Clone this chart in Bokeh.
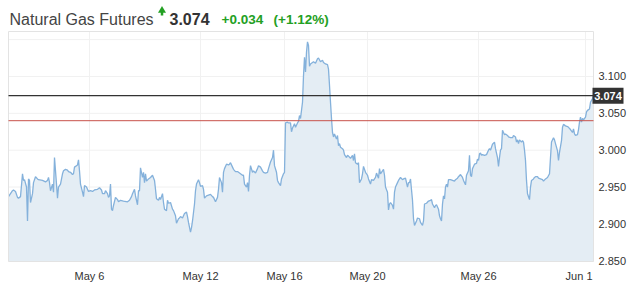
from bokeh.plotting import figure
from bokeh.models import Range1d
from bokeh.core.properties import value
from bokeh.embed import file_html
from bokeh.resources import INLINE

# ---- data -------------------------------------------------------------
bars = [0, 4, 5, 7, 9, 10, 12, 14, 15, 16, 18, 19, 20, 21, 22, 24, 25, 27, 29, 30,
        34, 37, 39, 40, 41, 42, 44, 45, 46, 48, 49, 50, 52, 54, 55, 57, 59, 60, 62, 64,
        65, 66, 68, 69, 70, 71, 72, 74, 75, 76, 78, 80, 82, 84, 86, 89, 91, 93, 94, 96,
        97, 99, 100, 101, 102, 103, 104, 105, 107, 109, 110, 112, 115, 119, 121, 123, 124, 126, 127, 129,
        130, 131, 132, 134, 135, 136, 137, 138, 140, 142, 144, 146, 147, 148, 150, 151, 152, 154, 155, 156,
        158, 159, 160, 162, 164, 165, 167, 168, 170, 171, 172, 174, 175, 176, 178, 179, 180, 182, 183, 184,
        186, 187, 188, 190, 191, 192, 194, 195, 196, 198, 200, 202, 204, 205, 207, 209, 210, 211, 213, 214,
        215, 216, 218, 220, 221, 222, 224, 225, 227, 229, 230, 232, 234, 235, 236, 238, 239, 240, 241, 242,
        244, 245, 247, 249, 250, 252, 254, 255, 257, 259, 260, 262, 264, 265, 266, 268, 269, 270, 272, 273,
        275, 276, 277, 279, 280, 282, 283, 284, 286, 287, 289, 290, 291, 292, 294, 295, 296, 297, 298, 299,
        300, 301, 302, 304, 305, 307, 309, 310, 312, 314, 315, 317, 319, 320, 321, 322, 323, 324, 325, 326,
        328, 329, 330, 331, 332, 334, 335, 336, 338, 339, 340, 342, 344, 345, 346, 347, 349, 350, 351, 353,
        354, 355, 357, 359, 360, 362, 363, 365, 367, 368, 370, 371, 372, 374, 375, 376, 377, 379, 380, 381,
        382, 384, 385, 386, 387, 389, 390, 392, 394, 395, 397, 399, 400, 401, 402, 404, 405, 406, 408, 409,
        411, 412, 414, 415, 416, 418, 420, 422, 423, 424, 426, 427, 428, 430, 431, 432, 433, 434, 435, 436,
        437, 438, 439, 440, 442, 444, 446, 447, 449, 450, 452, 454, 455, 457, 458, 460, 461, 462, 463, 464,
        465, 466, 468, 469, 470, 471, 472, 473, 474, 476, 478, 480, 481, 482, 484, 486, 487, 489, 490, 491,
        492, 493, 494, 496, 497, 499, 500, 502, 504, 505, 507, 508, 509, 510, 511, 513, 514, 515, 516, 517,
        518, 519, 521, 522, 523, 525, 526, 527, 529, 530, 532, 534, 535, 537, 538, 539, 541, 542, 543, 545,
        546, 547, 549, 550, 551, 553, 554, 555, 557, 559, 560, 562, 564, 565, 566, 567, 569, 570, 571, 572,
        573, 574, 575, 577, 578, 579, 581, 582, 584, 585]

prices = [2.937, 2.945, 2.946, 2.944, 2.936, 2.935, 2.937, 2.968, 2.959, 2.960, 2.950, 2.904, 2.961, 2.959, 2.929, 2.941, 2.956, 2.964, 2.961, 2.960,
          2.959, 2.957, 2.959, 2.963, 2.956, 2.945, 2.954, 2.943, 2.990, 2.954, 2.935, 2.950, 2.954, 2.968, 2.972, 2.974, 2.973, 2.971, 2.970, 2.967,
          2.968, 2.977, 2.979, 2.980, 2.987, 2.972, 2.954, 2.943, 2.937, 2.952, 2.950, 2.944, 2.945, 2.944, 2.946, 2.947, 2.949, 2.946, 2.941, 2.941,
          2.945, 2.941, 2.936, 2.938, 2.954, 2.920, 2.918, 2.925, 2.936, 2.933, 2.930, 2.932, 2.931, 2.930, 2.932, 2.937, 2.941, 2.947, 2.938, 2.926,
          2.945, 2.945, 2.976, 2.963, 2.970, 2.956, 2.968, 2.958, 2.961, 2.963, 2.966, 2.959, 2.947, 2.934, 2.932, 2.936, 2.933, 2.941, 2.929, 2.920,
          2.918, 2.932, 2.928, 2.929, 2.920, 2.918, 2.911, 2.901, 2.907, 2.908, 2.910, 2.908, 2.911, 2.914, 2.916, 2.910, 2.902, 2.889, 2.895, 2.904,
          2.927, 2.945, 2.954, 2.960, 2.956, 2.951, 2.952, 2.947, 2.935, 2.938, 2.939, 2.940, 2.937, 2.936, 2.930, 2.936, 2.947, 2.963, 2.956, 2.943,
          2.970, 2.975, 2.981, 2.980, 2.981, 2.983, 2.977, 2.974, 2.971, 2.971, 2.970, 2.968, 2.966, 2.966, 2.954, 2.950, 2.956, 2.944, 2.966, 2.979,
          2.970, 2.972, 2.969, 2.975, 2.979, 2.977, 2.972, 2.970, 2.969, 2.970, 2.975, 2.984, 2.990, 3.000, 2.979, 2.970, 2.959, 2.956, 2.952, 2.961,
          2.968, 2.970, 3.037, 3.038, 3.037, 3.037, 3.025, 3.030, 3.036, 3.031, 3.037, 3.039, 3.047, 3.043, 3.065, 3.101, 3.126, 3.106, 3.133, 3.147,
          3.142, 3.114, 3.117, 3.119, 3.120, 3.118, 3.124, 3.125, 3.120, 3.122, 3.119, 3.117, 3.116, 3.110, 3.088, 3.065, 3.043, 3.024, 3.018, 3.022,
          3.015, 3.020, 3.006, 3.009, 3.004, 3.002, 3.000, 2.994, 2.990, 2.993, 2.992, 2.989, 2.993, 2.986, 2.995, 2.983, 2.981, 2.983, 2.956, 2.961,
          2.968, 2.978, 2.970, 2.966, 2.961, 2.954, 2.960, 2.959, 2.963, 2.969, 2.962, 2.975, 2.968, 2.972, 2.974, 2.966, 2.950, 2.943, 2.919, 2.927,
          2.929, 2.925, 2.920, 2.943, 2.950, 2.956, 2.959, 2.963, 2.960, 2.961, 2.962, 2.950, 2.956, 2.956, 2.961, 2.932, 2.907, 2.898, 2.904, 2.908,
          2.907, 2.902, 2.898, 2.904, 2.927, 2.928, 2.931, 2.932, 2.933, 2.927, 2.922, 2.925, 2.926, 2.920, 2.911, 2.907, 2.904, 2.927, 2.938, 2.934,
          2.950, 2.954, 2.950, 2.960, 2.960, 2.959, 2.958, 2.960, 2.962, 2.964, 2.967, 2.963, 2.959, 2.953, 2.966, 2.972, 2.993, 2.966, 2.964, 2.975,
          2.978, 2.981, 2.982, 2.988, 2.986, 2.995, 2.996, 2.993, 2.994, 2.993, 2.994, 3.000, 3.002, 3.000, 3.008, 3.011, 3.002, 2.990, 2.978, 2.990,
          3.000, 3.002, 3.027, 3.021, 3.022, 3.020, 3.018, 3.017, 3.017, 3.020, 3.018, 3.011, 3.014, 3.009, 3.014, 3.011, 3.013, 3.011, 3.000, 2.986,
          2.959, 2.941, 2.933, 2.950, 2.959, 2.961, 2.963, 2.964, 2.964, 2.962, 2.961, 2.960, 2.958, 2.961, 2.962, 2.963, 2.968, 2.990, 3.011, 3.017,
          3.014, 3.009, 2.999, 2.986, 2.997, 3.013, 3.031, 3.035, 3.033, 3.032, 3.031, 3.028, 3.024, 3.029, 3.022, 3.020, 3.021, 3.028, 3.038, 3.045,
          3.038, 3.043, 3.041, 3.045, 3.052, 3.054, 3.056, 3.065, 3.070, 3.074]

last_price = 3.074
prev_close = 3.040
change_text = "+0.034"
change_pct_text = "(+1.12%)"
title_text = "Natural Gas Futures"

date_ticks = [81, 192, 276, 359, 470, 577]
date_labels = ["May 6", "May 12", "May 16", "May 20", "May 26", "Jun 1"]
price_ticks = [2.85, 2.90, 2.95, 3.00, 3.05, 3.10]
grid_price_ticks = [2.85, 2.90, 2.95, 3.00, 3.05, 3.10, 3.15]

# plotted value window
Y_MIN, Y_MAX = 2.849, 3.161
X_MIN, X_MAX = 0, 585

# ---- layout (canvas pixels) ---------------------------------------------
W, H = 643, 294
L, R, T, B = 8, 593, 31, 261          # plot area inside the canvas
FONT = "Liberation Sans"
GREEN = "#23a023"

def dx(px):   # canvas x pixel -> data x
    return X_MIN + (px - L) * (X_MAX - X_MIN) / (R - L)

def dy(py):   # canvas y pixel -> data y
    return Y_MAX - (py - T) * (Y_MAX - Y_MIN) / (B - T)

PX_X = (X_MAX - X_MIN) / (R - L)
PX_Y = (Y_MAX - Y_MIN) / (B - T)

p = figure(width=W, height=H, output_backend="svg", toolbar_location=None,
           x_range=Range1d(dx(0), dx(W)), y_range=Range1d(dy(H), dy(0)),
           x_axis_location=None, y_axis_location=None, min_border=0)
p.background_fill_color = "white"
p.border_fill_color = "white"
p.outline_line_color = None
p.grid.visible = False

# grid lines of the plot area
p.segment(x0=date_ticks, x1=date_ticks, y0=[Y_MIN] * len(date_ticks), y1=[Y_MAX] * len(date_ticks),
          line_color="#f1f1f1", line_width=1)
p.segment(x0=[X_MIN] * len(grid_price_ticks), x1=[X_MAX] * len(grid_price_ticks),
          y0=grid_price_ticks, y1=grid_price_ticks, line_color="#f1f1f1", line_width=1)

# area + line
p.varea(x=bars, y1=Y_MIN, y2=prices, fill_color="#e4edf4")
p.line(x=bars, y=prices, line_color="#84b1db", line_width=1.3)

# plot area border
p.quad(left=[X_MIN], right=[X_MAX], bottom=[Y_MIN], top=[Y_MAX],
       fill_color=None, line_color="#e3e3e3", line_width=1)

# previous close / last price lines
p.segment(x0=[X_MIN], x1=[X_MAX], y0=[prev_close], y1=[prev_close], line_color="#c8524a", line_width=1)
p.segment(x0=[X_MIN], x1=[X_MAX], y0=[last_price], y1=[last_price], line_color="#333333", line_width=1.2)

# y tick labels (right)
p.text(x=[X_MAX + 5 * PX_X] * len(price_ticks), y=price_ticks,
       text=[f"{t:.3f}" for t in price_ticks], text_font=value(FONT), text_font_size="11px",
       text_color="#333333", text_align="left", text_baseline="middle")

# x tick labels (bottom); the last one is kept inside the plot area
p.text(x=date_ticks[:-1], y=[Y_MIN - 8 * PX_Y] * (len(date_ticks) - 1), text=date_labels[:-1],
       text_font=value(FONT), text_font_size="11px", text_color="#333333",
       text_align="center", text_baseline="top")
p.text(x=[X_MAX - 1 * PX_X], y=[Y_MIN - 8 * PX_Y], text=date_labels[-1:],
       text_font=value(FONT), text_font_size="11px", text_color="#333333",
       text_align="right", text_baseline="top")

# last price box
p.quad(left=[X_MAX - 1 * PX_X], right=[X_MAX + 30 * PX_X],
       bottom=[last_price - 8 * PX_Y], top=[last_price + 8 * PX_Y],
       fill_color="#333333", line_color=None)
p.text(x=[X_MAX + 14.5 * PX_X], y=[last_price], text=[f"{last_price:.3f}"],
       text_font=value(FONT), text_font_size="11px", text_font_style="bold",
       text_color="white", text_align="center", text_baseline="middle")

# header
hy = dy(18.5)
p.text(x=[dx(9)], y=[hy], text=[title_text], text_font=value(FONT), text_font_size="16px",
       text_color="#444444", text_baseline="alphabetic")
p.segment(x0=[dx(161.5)], x1=[dx(161.5)], y0=[dy(15)], y1=[dy(10)], line_color=GREEN, line_width=2.5)
p.scatter(x=[dx(161.5)], y=[dy(10)], marker="triangle", size=8, fill_color=GREEN, line_color=None)
p.text(x=[dx(169)], y=[hy], text=[f"{last_price:.3f}"], text_font=value(FONT), text_font_size="16px",
       text_font_style="bold", text_color="#333333", text_baseline="alphabetic")
p.text(x=[dx(221)], y=[hy], text=[change_text], text_font=value(FONT), text_font_size="13.5px",
       text_font_style="bold", text_color=GREEN, text_baseline="alphabetic")
p.text(x=[dx(273)], y=[hy], text=[change_pct_text], text_font=value(FONT), text_font_size="13.5px",
       text_font_style="bold", text_color=GREEN, text_baseline="alphabetic")

open("out.html", "w").write(file_html(p, INLINE))
